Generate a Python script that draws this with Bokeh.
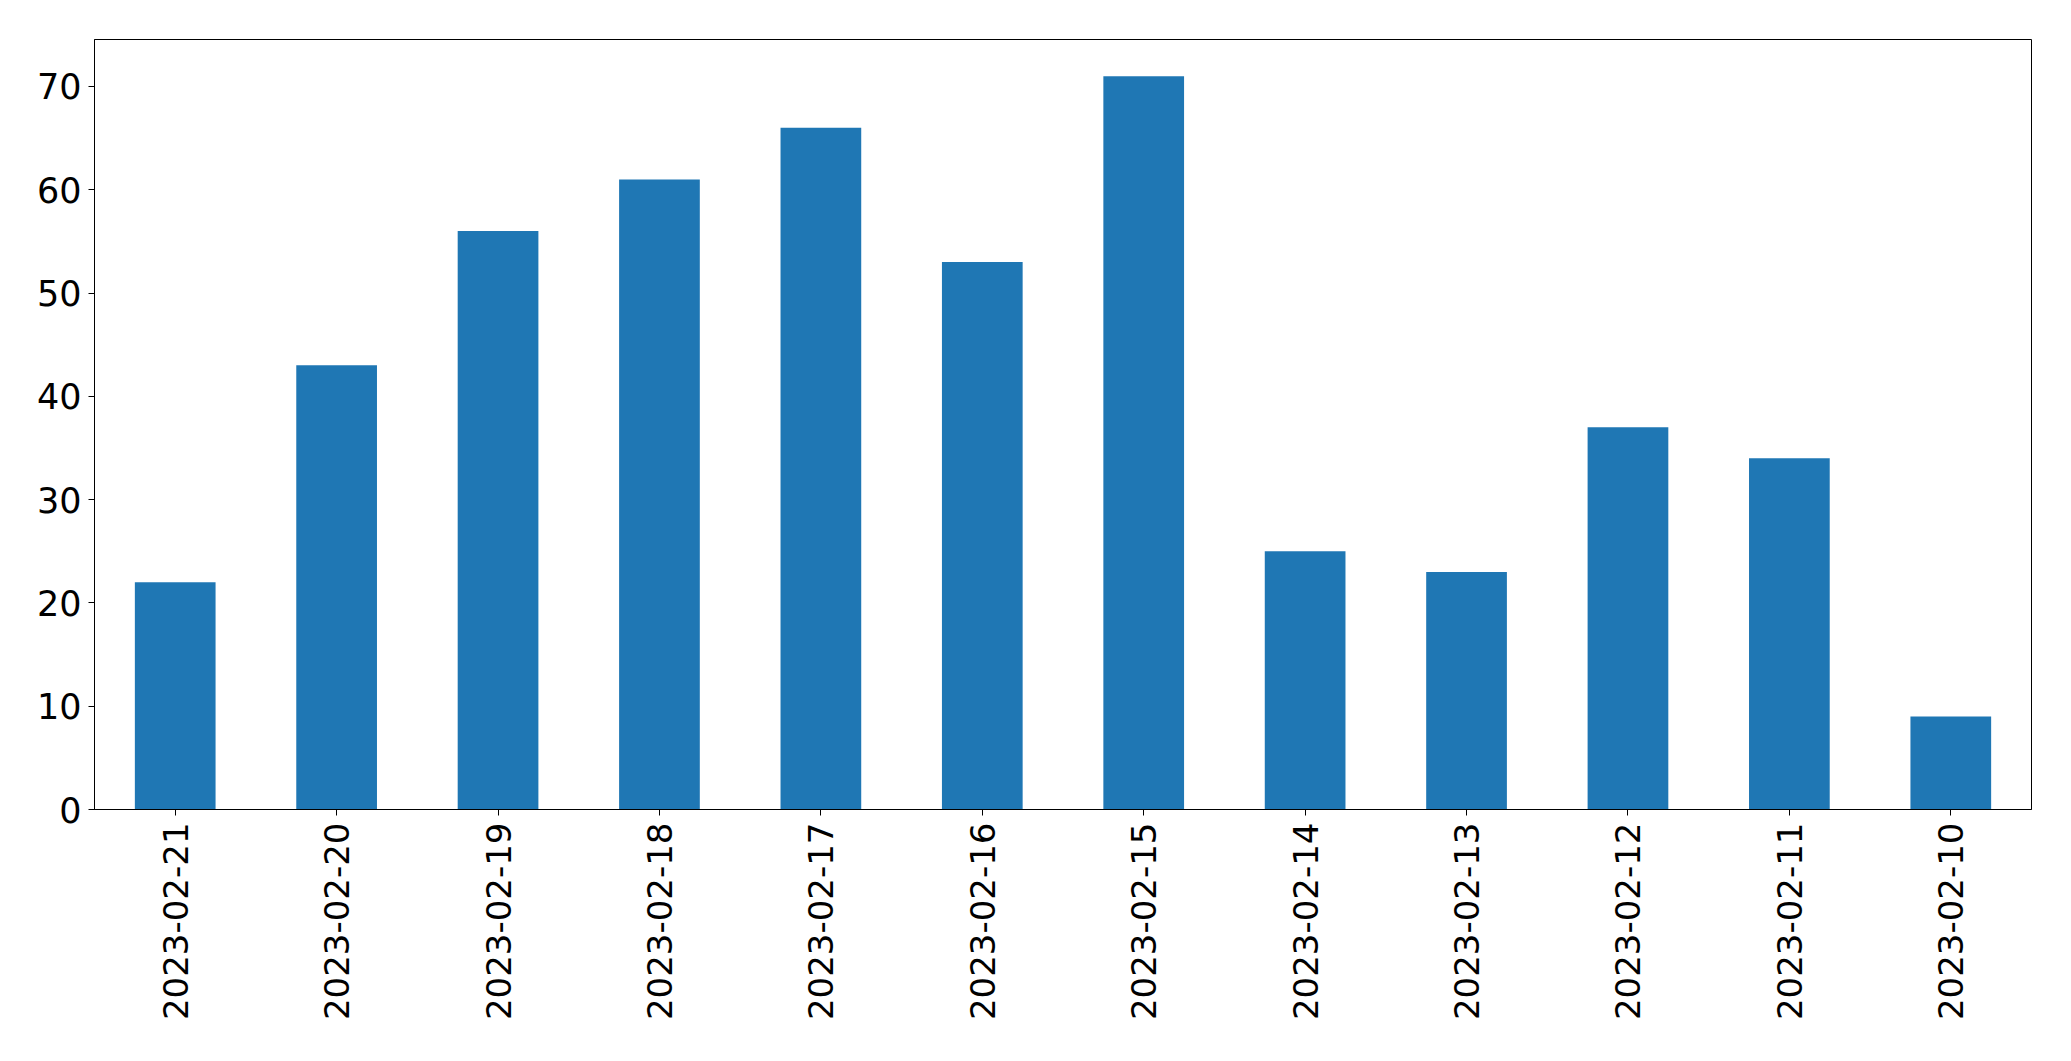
import math
from bokeh.plotting import figure
from bokeh.models import Range1d, FixedTicker
from bokeh.embed import file_html
from bokeh.resources import INLINE

dates = ["2023-02-21", "2023-02-20", "2023-02-19", "2023-02-18", "2023-02-17", "2023-02-16",
         "2023-02-15", "2023-02-14", "2023-02-13", "2023-02-12", "2023-02-11", "2023-02-10"]
counts = [22, 43, 56, 61, 66, 53, 71, 25, 23, 37, 34, 9]
y_ticks = [0, 10, 20, 30, 40, 50, 60, 70]

p = figure(x_range=dates, y_range=Range1d(0, max(counts) * 1.05),
           frame_width=1937, frame_height=770,
           min_border_left=94, min_border_top=39, min_border_right=30, min_border_bottom=230,
           output_backend="svg", toolbar_location=None)

p.vbar(x=dates, top=counts, width=0.5, color="#1f77b4", line_color=None)

p.xgrid.visible = False
p.ygrid.visible = False
p.outline_line_color = "black"
p.outline_line_alpha = 1
p.outline_line_width = 1
p.background_fill_color = "white"
p.border_fill_color = "white"

p.x_range.range_padding = 0
p.yaxis.ticker = FixedTicker(ticks=y_ticks)

for ax in (p.xaxis[0], p.yaxis[0]):
    ax.axis_line_color = "black"
    ax.major_tick_line_color = "black"
    ax.major_tick_in = 0
    ax.major_tick_out = 6
    ax.minor_tick_line_color = None
    ax.major_label_text_font = "DejaVu Sans"
    ax.major_label_text_font_size = "34px"
    ax.major_label_text_color = "black"

p.yaxis.major_label_text_font_size = "35px"
p.yaxis.major_label_standoff = 7
p.xaxis.major_label_standoff = 7
p.xaxis.major_label_orientation = math.pi / 2

open("out.html", "w").write(file_html(p, INLINE))
